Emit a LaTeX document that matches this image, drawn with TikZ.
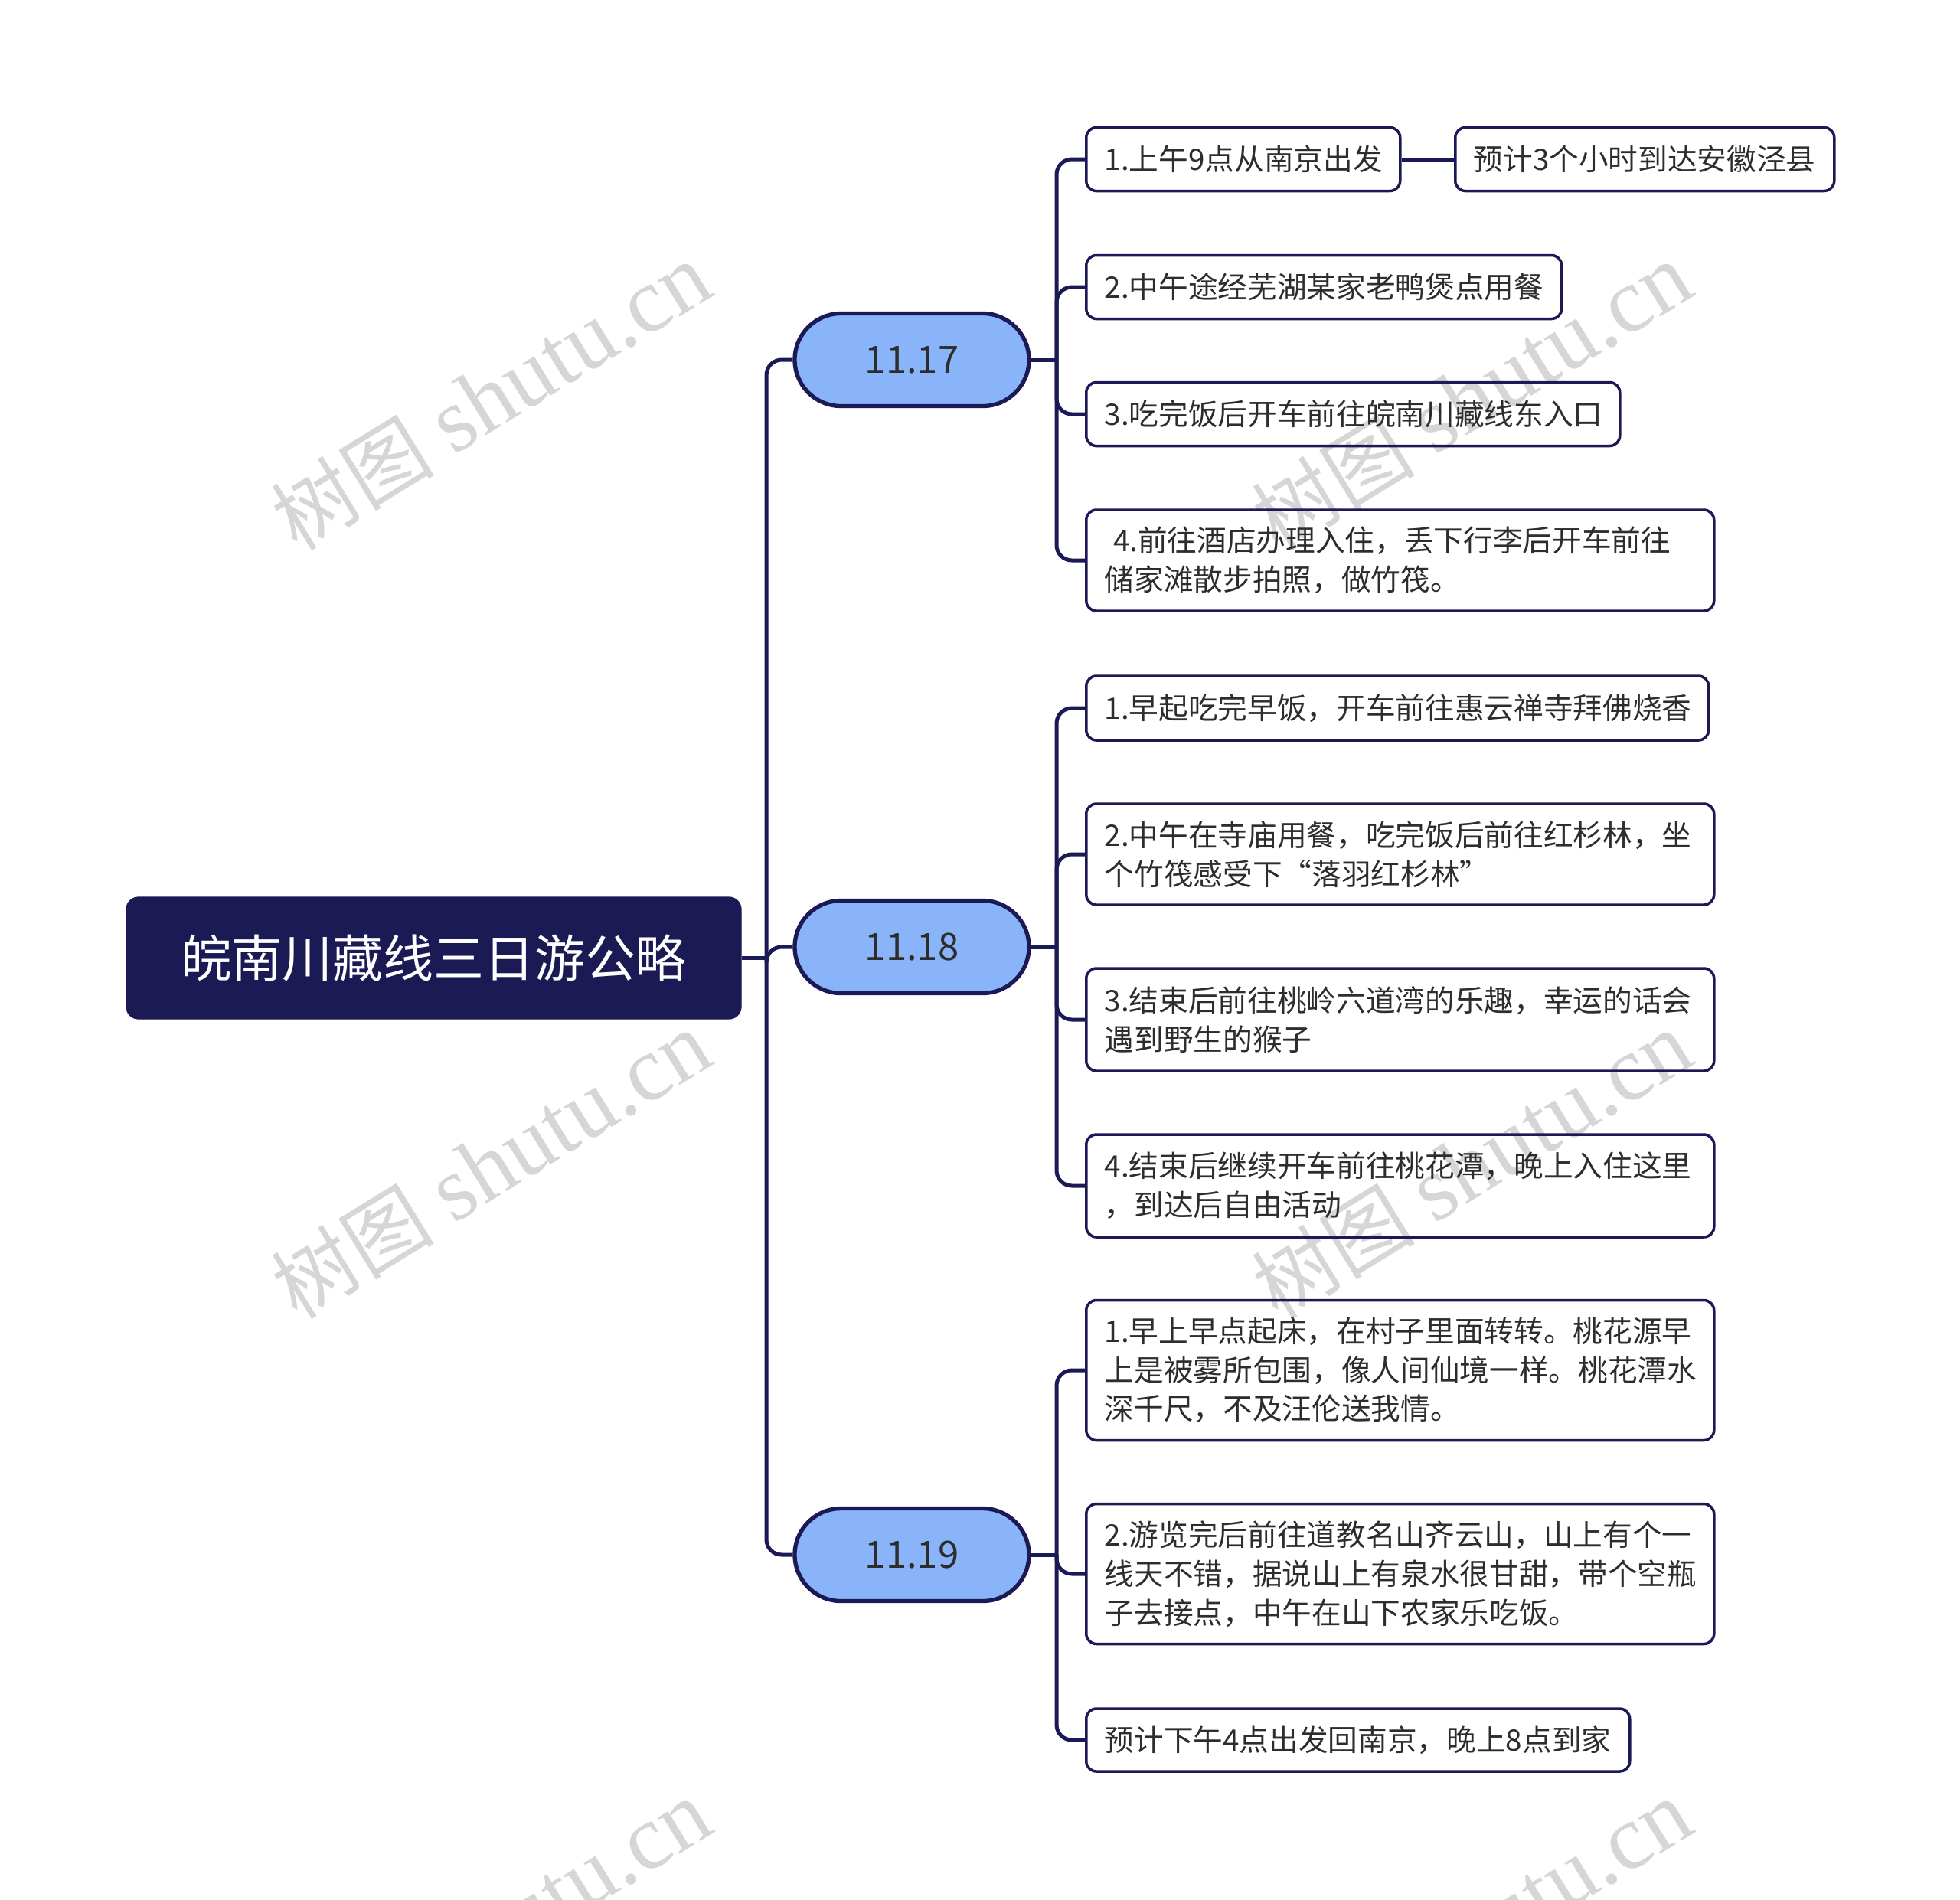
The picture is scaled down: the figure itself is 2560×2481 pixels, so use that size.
\documentclass[tikz,border=0pt]{standalone}
\usepackage{fontspec}
\setmainfont{Noto Sans CJK SC}
\newfontfamily\wmcjk{Noto Sans CJK SC}
\newfontfamily\wmserif{Liberation Serif}
\usetikzlibrary{shapes.misc}
\definecolor{navy}{RGB}{27,26,85}
\definecolor{dayblue}{RGB}{138,180,250}
\definecolor{txt}{RGB}{45,45,45}
\definecolor{wmgray}{RGB}{214,214,214}
\tikzset{
  conn/.style={draw=navy, line width=1.5pt, rounded corners=6pt},
  rootbox/.style={draw=navy, fill=navy, rounded corners=4.8pt, text=white,
    minimum width=240.9pt, minimum height=47.7pt, inner sep=0pt,
    font=\fontsize{19.8}{24}\selectfont},
  daybox/.style={rounded rectangle, draw=navy, fill=dayblue, line width=1.6pt,
    minimum width=91.8pt, minimum height=36.3pt, inner sep=0pt, text=txt,
    font=\fontsize{14.7}{18}\selectfont},
  leaf/.style={draw=navy, line width=1.05pt, rounded corners=4pt, anchor=west,
    inner xsep=7.2pt, inner ysep=0pt, align=left, text=txt,
    font=\fontsize{11.6}{15.2}\selectfont},
  wmk/.style={text=wmgray, rotate=31.6, inner sep=0pt,
    font=\fontsize{36}{40}\selectfont}
}
\newcommand{\wmtext}{{\wmcjk\fontsize{32}{40}\selectfont 树图} {\wmserif shutu.cn}}
\begin{document}
\begin{tikzpicture}[x=0.3pt, y=-0.3pt]
\useasboundingbox (0,0) rectangle (2560,2481);
\begin{scope}
\clip (0,0) rectangle (2560,2481);
\node[wmk] (w1) at (641,518) {\wmtext};
\node[wmk] (w2) at (1922,518) {\wmtext};
\node[wmk] (w3) at (641,1522) {\wmtext};
\node[wmk] (w4) at (1922,1522) {\wmtext};
\node[wmk] (w5) at (641,2526) {\wmtext};
\node[wmk] (w6) at (1922,2526) {\wmtext};
\end{scope}

% root and days
\node[rootbox] (root) at (566.5,1251.5) {皖南川藏线三日游公略};
\node[daybox] (d1) at (1191,470) {11.17};
\node[daybox] (d2) at (1191,1237) {11.18};
\node[daybox] (d3) at (1191,2031) {11.19};

% leaves of 11.17
\node[leaf, text width=108.6pt, minimum height=24.9pt] (a1) at (1417,208) {1.上午9点从南京出发};
\node[leaf, text width=134.1pt, minimum height=24.9pt] (a1b) at (1899,208) {预计3个小时到达安徽泾县};
\node[leaf, text width=171.9pt, minimum height=24.9pt] (a2) at (1417,375) {2.中午途经芜湖某家老鸭煲点用餐};
\node[leaf, text width=194.7pt, minimum height=24.9pt] (a3) at (1417,541) {3.吃完饭后开车前往皖南川藏线东入口};
\node[leaf, text width=231.6pt, minimum height=39.6pt] (a4) at (1417,732) {\hspace*{3.4pt}4.前往酒店办理入住，丢下行李后开车前往\\储家滩散步拍照，做竹筏。};

% leaves of 11.18
\node[leaf, text width=229.5pt, minimum height=25.2pt] (b1) at (1417,925) {1.早起吃完早饭，开车前往惠云禅寺拜佛烧香};
\node[leaf, text width=231.6pt, minimum height=39.6pt] (b2) at (1417,1116) {2.中午在寺庙用餐，吃完饭后前往红杉林，坐\\个竹筏感受下“落羽红杉林”};
\node[leaf, text width=231.6pt, minimum height=40.2pt] (b3) at (1417,1332) {3.结束后前往桃岭六道湾的乐趣，幸运的话会\\遇到野生的猴子};
\node[leaf, text width=231.6pt, minimum height=40.2pt] (b4) at (1417,1549) {4.结束后继续开车前往桃花潭，晚上入住这里\\，到达后自由活动};

% leaves of 11.19
\node[leaf, text width=231.6pt, minimum height=54.9pt] (c1) at (1417,1790) {1.早上早点起床，在村子里面转转。桃花源早\\上是被雾所包围，像人间仙境一样。桃花潭水\\深千尺，不及汪伦送我情。};
\node[leaf, text width=231.6pt, minimum height=54.9pt] (c2) at (1417,2056) {2.游览完后前往道教名山齐云山，山上有个一\\线天不错，据说山上有泉水很甘甜，带个空瓶\\子去接点，中午在山下农家乐吃饭。};
\node[leaf, text width=198.6pt, minimum height=24.6pt] (c3) at (1417,2273) {预计下午4点出发回南京，晚上8点到家};

% junctions
\coordinate (tr) at (1001,1251.5);
\coordinate (j1) at (1380,470);
\coordinate (j2) at (1380,1237);
\coordinate (j3) at (1380,2031);

% connectors
\draw[conn] (root.east) -- (tr);
\draw[conn] (tr) |- (d1.west);
\draw[conn] (tr) |- (d2.west);
\draw[conn] (tr) |- (d3.west);

\draw[conn] (d1.east) -- (j1);
\draw[conn] (j1) |- (a1.west);
\draw[conn] (j1) |- (a2.west);
\draw[conn] (j1) |- (a3.west);
\draw[conn] (j1) |- (a4.west);
\draw[conn] (a1.east) -- (a1b.west);

\draw[conn] (d2.east) -- (j2);
\draw[conn] (j2) |- (b1.west);
\draw[conn] (j2) |- (b2.west);
\draw[conn] (j2) |- (b3.west);
\draw[conn] (j2) |- (b4.west);

\draw[conn] (d3.east) -- (j3);
\draw[conn] (j3) |- (c1.west);
\draw[conn] (j3) |- (c2.west);
\draw[conn] (j3) |- (c3.west);
\end{tikzpicture}
\end{document}
